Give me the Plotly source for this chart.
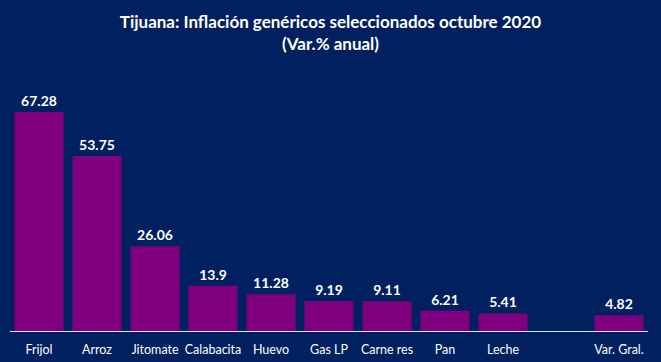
import plotly.graph_objects as go

categories = ["Frijol", "Arroz", "Jitomate", "Calabacita", "Huevo", "Gas LP",
              "Carne res", "Pan", "Leche", " ", "Var. Gral."]
values = [67.28, 53.75, 26.06, 13.9, 11.28, 9.19, 9.11, 6.21, 5.41, None, 4.82]
labels = ["67.28", "53.75", "26.06", "13.9", "11.28", "9.19", "9.11", "6.21", "5.41", "", "4.82"]

BG = "#002060"
FONT = "Lato"

fig = go.Figure(go.Bar(
    x=categories, y=values, text=labels, textposition="outside",
    marker=dict(color="#800080", line=dict(width=0)),
    textfont=dict(color="white", size=14, family=FONT),
    texttemplate="<b>%{text}</b>", cliponaxis=False,
))

fig.update_layout(
    width=661, height=362,
    paper_bgcolor=BG, plot_bgcolor=BG,
    margin=dict(l=10, r=13, t=80, b=31, autoexpand=False),
    bargap=0.155,
    showlegend=False,
    title=dict(
        text="<b>Tijuana: Inflación genéricos seleccionados octubre 2020<br>(Var.% anual)</b>",
        x=0.5, xanchor="center", y=0.924, yanchor="top",
        font=dict(color="white", size=17, family=FONT),
    ),
    xaxis=dict(
        showline=True, linecolor="#d9e1f2", linewidth=1,
        tickfont=dict(color="white", size=12.5, family=FONT),
        ticks="outside", ticklen=7, tickcolor=BG, automargin=False,
        showgrid=False, fixedrange=True,
    ),
    yaxis=dict(
        range=[0, 77.1], visible=False, showgrid=False, zeroline=False,
        automargin=False,
    ),
)

fig.write_html("out.html", config={"displayModeBar": False},
               post_script="document.body.style.margin='0';document.body.style.background='" + BG + "';")
